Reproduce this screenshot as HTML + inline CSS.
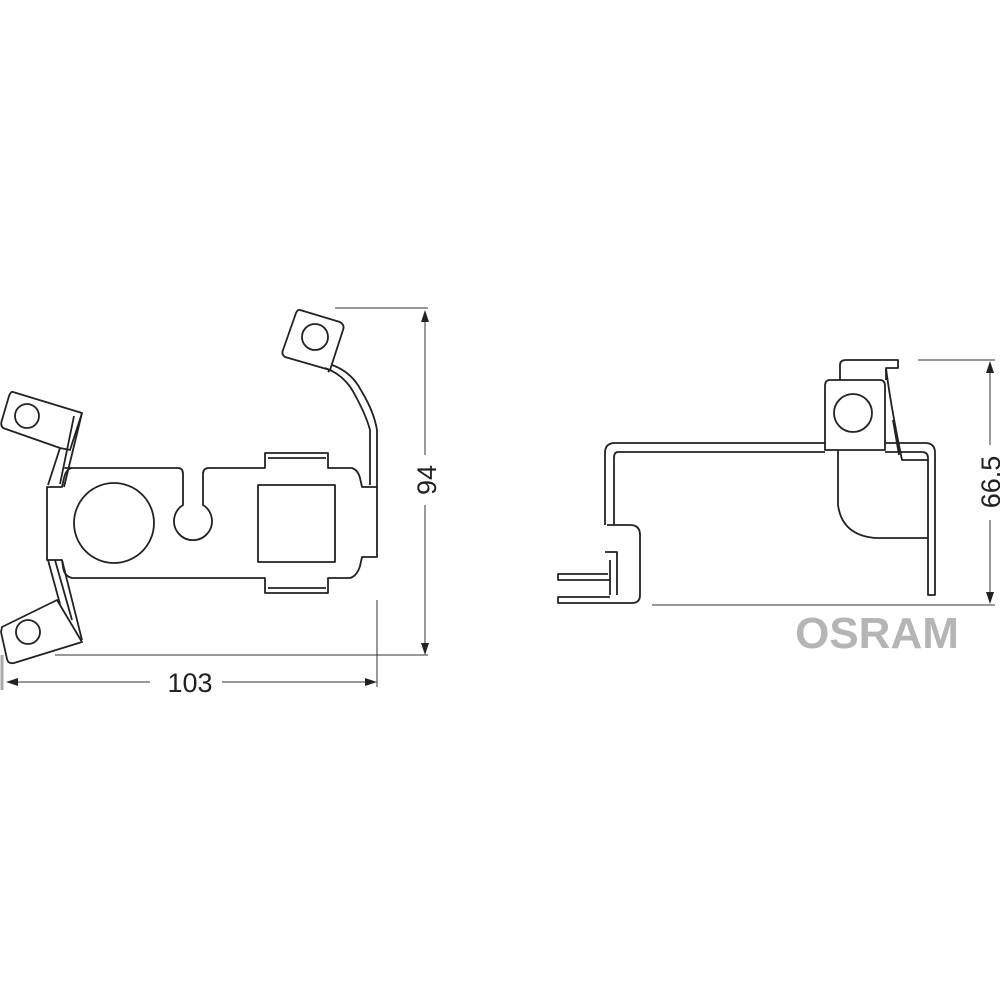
<!DOCTYPE html>
<html><head><style>body{margin:0;background:#fff}svg{display:block}</style></head><body>
<svg width="1000" height="1000" viewBox="0 0 1000 1000" xmlns="http://www.w3.org/2000/svg" fill="none" stroke="#222" stroke-width="1.8" stroke-linejoin="round">
<!-- LEFT VIEW plate -->
<path d="M65,468 L178,468 Q183,468 183,474 L183,505 A19,19 0 1 0 203,505 L203,474 Q203,468 209,468 L265,468 L265,453 L328,453 L328,468 L352,468 Q358,470 360,478 L362,487 L377,487 L377,557 L362,557 L360,566 Q357,576 350,578 L328,578 L328,593 L265,593 L265,578 L72,578 Q64,576 63,567 L62,560 L47,560 L47,487 L62,487 L64,478 Q66,469 72,468 Z"/>
<line x1="268" y1="458" x2="326" y2="458"/>
<line x1="268" y1="588" x2="326" y2="588"/>
<circle cx="114" cy="523" r="40"/>
<rect x="258" y="485" width="77" height="77"/>
<!-- top-left tab -->
<path d="M13,392 L82,413 L70,450 L60,448 L3,428 Q0,425 2,420 L9,396 Q11,391 13,392 Z"/>
<circle cx="27" cy="416" r="12"/>
<path d="M60,448 L48,485 M74,416 L60,484 M82,413 L64,487"/>
<!-- bottom-left tab -->
<path d="M2,627 L57,600 L82,642 L14,663 Q8,664 7,659 L1,632 Z"/>
<circle cx="28" cy="632" r="12"/>
<path d="M48,560 L60,604 M55,560 L72,620 M62,560 L82,640"/>
<!-- top-right tab -->
<path d="M300,310 L340,322 Q345,325 343,330 L330,370 L285,357 Q281,354 283,350 L296,313 Q298,309 300,310 Z"/>
<circle cx="315" cy="337" r="13"/>
<path d="M325,368 Q345,375 355,395 Q366,415 370,430 L370,485 M330,370 L328,372 M332,365 Q352,372 362,392 Q374,412 377,430 L377,487"/>
<!-- left dims -->
<g stroke="#333" stroke-width="1">
<line x1="335" y1="308" x2="428" y2="308"/>
<line x1="55" y1="655" x2="428" y2="655"/>
<line x1="425" y1="312" x2="425" y2="455"/>
<line x1="425" y1="505" x2="425" y2="652"/>
<line x1="377" y1="600" x2="377" y2="687"/>
<line x1="8" y1="682" x2="150" y2="682"/>
<line x1="222" y1="682" x2="374" y2="682"/>
<line x1="2" y1="655" x2="2" y2="690" stroke="#aaa" stroke-width="3"/>
</g>
<g fill="#222" stroke="none">
<polygon points="425,310 421,322 429,322"/>
<polygon points="425,655 421,643 429,643"/>
<polygon points="6,682 18,678 18,686"/>
<polygon points="377,682 365,678 365,686"/>
</g>
<text x="190" y="692" font-family="Liberation Sans, sans-serif" font-size="27" fill="#222" stroke="none" text-anchor="middle">103</text>
<text transform="translate(436,480) rotate(-90)" font-family="Liberation Sans, sans-serif" font-size="27" fill="#222" stroke="none" text-anchor="middle">94</text>
<!-- RIGHT VIEW -->
<path d="M825,443 L615,443 Q605,443 605,453 L605,525 M825,452 L618,452 Q614,452 614,458 L614,525"/>
<path d="M885,443 L925,443 Q935,443 935,453 L935,595 L928,595 L928,458 Q928,452 922,452 L885,452"/>
<path d="M607,525 L630,525 Q640,525 640,535 L640,595 Q640,603 632,603 L558,603 L558,597 L610,597 M610,580 L558,580 L558,574 L608,574"/>
<path d="M605,552 L617,552 L617,595 M610,560 L610,595"/>
<path d="M830,380 L880,380 Q885,380 885,386 L885,450 L825,450 L825,386 Q825,380 830,380 Z"/>
<circle cx="853" cy="413" r="19"/>
<path d="M840,380 L840,365 Q840,360 846,360 L898,360 L898,368 L886,368 L886,380 M886,368 Q890,400 898,440 L902,460 L928,460 M893,420 L899,455"/>
<path d="M838,450 L838,505 Q842,535 875,538 L928,538"/>
<g stroke="#333" stroke-width="1">
<line x1="918" y1="360" x2="995" y2="360"/>
<line x1="652" y1="605" x2="995" y2="605"/>
<line x1="990" y1="363" x2="990" y2="445"/>
<line x1="990" y1="520" x2="990" y2="602"/>
</g>
<g fill="#222" stroke="none">
<polygon points="990,361 986,373 994,373"/>
<polygon points="990,604 986,592 994,592"/>
</g>
<text transform="translate(1000,482) rotate(-90)" font-family="Liberation Sans, sans-serif" font-size="27" fill="#222" stroke="none" text-anchor="middle">66.5</text>
<text x="877" y="648" font-family="Liberation Sans, sans-serif" font-weight="bold" font-size="44" fill="#b5b5b5" stroke="none" text-anchor="middle">OSRAM</text>
</svg>
</body></html>
